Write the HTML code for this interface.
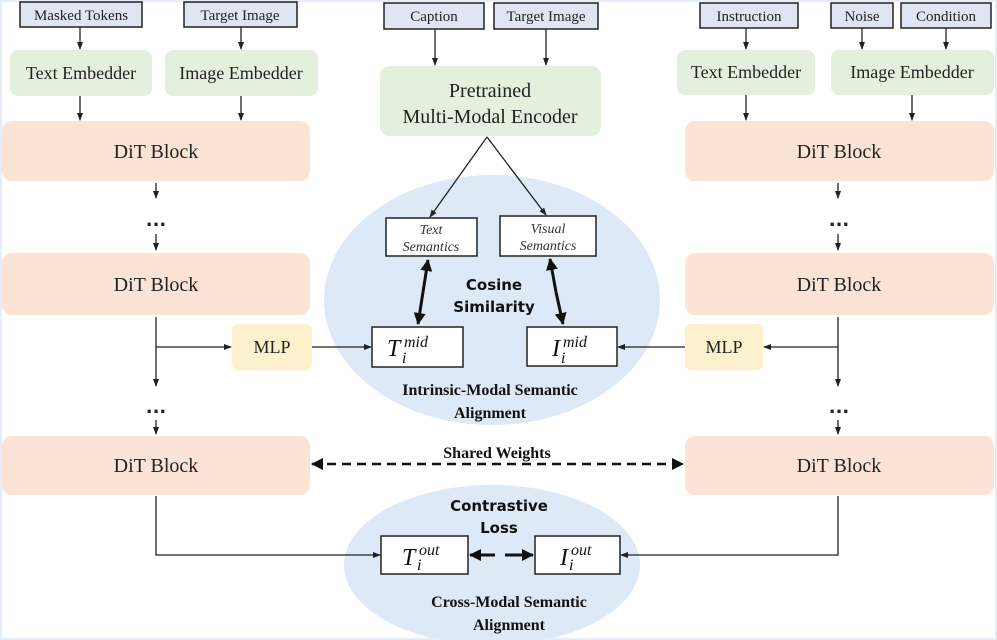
<!DOCTYPE html>
<html><head><meta charset="utf-8"><style>body{margin:0;background:#fff}svg{display:block}</style></head><body>
<svg width="997" height="640" viewBox="0 0 997 640" xmlns="http://www.w3.org/2000/svg" font-family="Liberation Serif, serif">
<defs>
<marker id="a" markerWidth="8" markerHeight="8" refX="7" refY="4" orient="auto" markerUnits="userSpaceOnUse"><path d="M0,1 L8,4 L0,7 Z" fill="#222"/></marker>
<marker id="b" markerWidth="12" markerHeight="12" refX="11" refY="6" orient="auto" markerUnits="userSpaceOnUse"><path d="M0,0 L12,6 L0,12 Z" fill="#111"/></marker>
<marker id="c" markerWidth="12" markerHeight="12" refX="1" refY="6" orient="auto" markerUnits="userSpaceOnUse"><path d="M12,0 L0,6 L12,12 Z" fill="#111"/></marker>
</defs>
<rect x="0.5" y="0.5" width="996" height="639" fill="#fff" stroke="#e4eef8" stroke-width="3"/>
<ellipse cx="492" cy="300" rx="168" ry="125" fill="#dde9f6"/>
<ellipse cx="492" cy="565" rx="148" ry="80" fill="#dde9f6"/>
<g stroke="#222" stroke-width="1.5" fill="#dfe5f3">
<rect x="20" y="2" width="122" height="25"/><rect x="184" y="2" width="113" height="25"/>
<rect x="384" y="3" width="100" height="26"/><rect x="494" y="3" width="104" height="26"/>
<rect x="700" y="3" width="98" height="25"/><rect x="831" y="3" width="62" height="25"/><rect x="901" y="3" width="90" height="25"/>
</g>
<g font-size="15" fill="#222" text-anchor="middle">
<text x="81" y="20">Masked Tokens</text><text x="240" y="20">Target Image</text>
<text x="434" y="21">Caption</text><text x="546" y="21">Target Image</text>
<text x="749" y="21">Instruction</text><text x="862" y="21">Noise</text><text x="946" y="21">Condition</text>
</g>
<g fill="#e2f0dd">
<rect x="10" y="50" width="142" height="46" rx="8"/><rect x="165" y="50" width="153" height="46" rx="8"/>
<rect x="380" y="66" width="221" height="70" rx="10"/>
<rect x="677" y="50" width="138" height="45" rx="8"/><rect x="831" y="50" width="163" height="45" rx="8"/>
</g>
<g fill="#fbe3d6">
<rect x="2" y="121" width="308" height="60" rx="10"/><rect x="2" y="253" width="308" height="62" rx="10"/><rect x="2" y="436" width="308" height="59" rx="10"/>
<rect x="685" y="121" width="309" height="60" rx="10"/><rect x="685" y="253" width="309" height="62" rx="10"/><rect x="685" y="436" width="309" height="59" rx="10"/>
</g>
<g fill="#fdf0cc"><rect x="232" y="324" width="80" height="46" rx="6"/><rect x="685" y="324" width="78" height="46" rx="6"/></g>
<g font-size="18" fill="#222" text-anchor="middle">
<text x="81" y="79">Text Embedder</text><text x="241" y="79">Image Embedder</text>
<text x="746" y="78">Text Embedder</text><text x="912" y="78">Image Embedder</text>
<text x="490" y="97" font-size="20">Pretrained</text><text x="490" y="123" font-size="20">Multi-Modal Encoder</text>
<text x="156" y="158" font-size="20">DiT Block</text><text x="156" y="291" font-size="20">DiT Block</text><text x="156" y="472" font-size="20">DiT Block</text>
<text x="839" y="158" font-size="20">DiT Block</text><text x="839" y="291" font-size="20">DiT Block</text><text x="839" y="472" font-size="20">DiT Block</text>
<text x="272" y="353">MLP</text><text x="724" y="353">MLP</text>
</g>
<g font-family="DejaVu Sans, sans-serif" font-weight="bold" font-size="18" fill="#222" text-anchor="middle">
<text x="156" y="226">...</text><text x="156" y="413">...</text>
<text x="839" y="226">...</text><text x="839" y="413">...</text>
</g>
<g stroke="#222" stroke-width="1.3" fill="none" marker-end="url(#a)">
<line x1="80" y1="27" x2="80" y2="49"/><line x1="241" y1="27" x2="241" y2="49"/>
<line x1="80" y1="96" x2="80" y2="120"/><line x1="241" y1="96" x2="241" y2="120"/>
<line x1="435" y1="29" x2="435" y2="65"/><line x1="546" y1="29" x2="546" y2="65"/>
<line x1="746" y1="28" x2="746" y2="49"/><line x1="862" y1="28" x2="862" y2="49"/><line x1="946" y1="28" x2="946" y2="49"/>
<line x1="746" y1="95" x2="746" y2="120"/><line x1="912" y1="95" x2="912" y2="120"/>
<line x1="156" y1="183" x2="156" y2="198"/><line x1="156" y1="234" x2="156" y2="250"/>
<line x1="838" y1="183" x2="838" y2="198"/><line x1="838" y1="234" x2="838" y2="250"/>
<line x1="156" y1="317" x2="156" y2="386"/><line x1="156" y1="347" x2="231" y2="347"/>
<line x1="312" y1="347" x2="371" y2="347"/>
<line x1="156" y1="420" x2="156" y2="434"/><line x1="838" y1="420" x2="838" y2="434"/>
<line x1="838" y1="317" x2="838" y2="386"/><line x1="838" y1="347" x2="764" y2="347"/>
<line x1="685" y1="347" x2="618" y2="347"/>
<line x1="487" y1="137" x2="430" y2="217"/><line x1="487" y1="137" x2="546" y2="215"/>
<polyline points="156,496 156,555 380,555"/><polyline points="838,496 838,555 621,555"/>
</g>
<line x1="312" y1="464" x2="683" y2="464" stroke="#111" stroke-width="2.5" stroke-dasharray="9,6" marker-end="url(#b)" marker-start="url(#c)"/>
<g stroke="#111" stroke-width="3" marker-end="url(#b)">
<line x1="423" y1="292" x2="428" y2="260"/><line x1="423" y1="292" x2="418" y2="324"/>
<line x1="556" y1="292" x2="550" y2="259"/><line x1="556" y1="292" x2="563" y2="324"/>
<line x1="495" y1="555" x2="470" y2="555"/><line x1="505" y1="555" x2="533" y2="555"/>
</g>
<g stroke="#222" stroke-width="1.5" fill="#fff">
<rect x="386" y="218" width="91" height="38"/><rect x="500" y="216" width="96" height="40"/>
<rect x="372" y="327" width="91" height="40"/><rect x="527" y="327" width="90" height="39"/>
<rect x="381" y="536" width="87" height="38"/><rect x="535" y="536" width="85" height="38"/>
</g>
<g font-size="14" font-style="italic" fill="#333" text-anchor="middle">
<text x="431" y="234">Text</text><text x="431" y="251">Semantics</text>
<text x="548" y="233">Visual</text><text x="548" y="250">Semantics</text>
</g>
<g font-size="24" font-style="italic" fill="#111">
<text x="387" y="356">T</text><text x="404" y="347" font-size="16">mid</text><text x="402" y="363" font-size="16">i</text>
<text x="552" y="356">I</text><text x="563" y="347" font-size="16">mid</text><text x="561" y="363" font-size="16">i</text>
<text x="402" y="565">T</text><text x="419" y="555" font-size="16">out</text><text x="417" y="570" font-size="16">i</text>
<text x="560" y="565">I</text><text x="571" y="555" font-size="16">out</text><text x="569" y="570" font-size="16">i</text>
</g>
<g font-family="DejaVu Sans, sans-serif" font-weight="bold" font-size="15" fill="#111" text-anchor="middle">
<text x="494" y="290">Cosine</text><text x="494" y="312">Similarity</text>
<text x="499" y="511">Contrastive</text><text x="499" y="533">Loss</text>
</g>
<g font-weight="bold" font-size="16" fill="#111" text-anchor="middle">
<text x="490" y="395">Intrinsic-Modal Semantic</text><text x="490" y="418">Alignment</text>
<text x="497" y="458">Shared Weights</text>
<text x="509" y="607">Cross-Modal Semantic</text><text x="509" y="630">Alignment</text>
</g>
</svg>
</body></html>
